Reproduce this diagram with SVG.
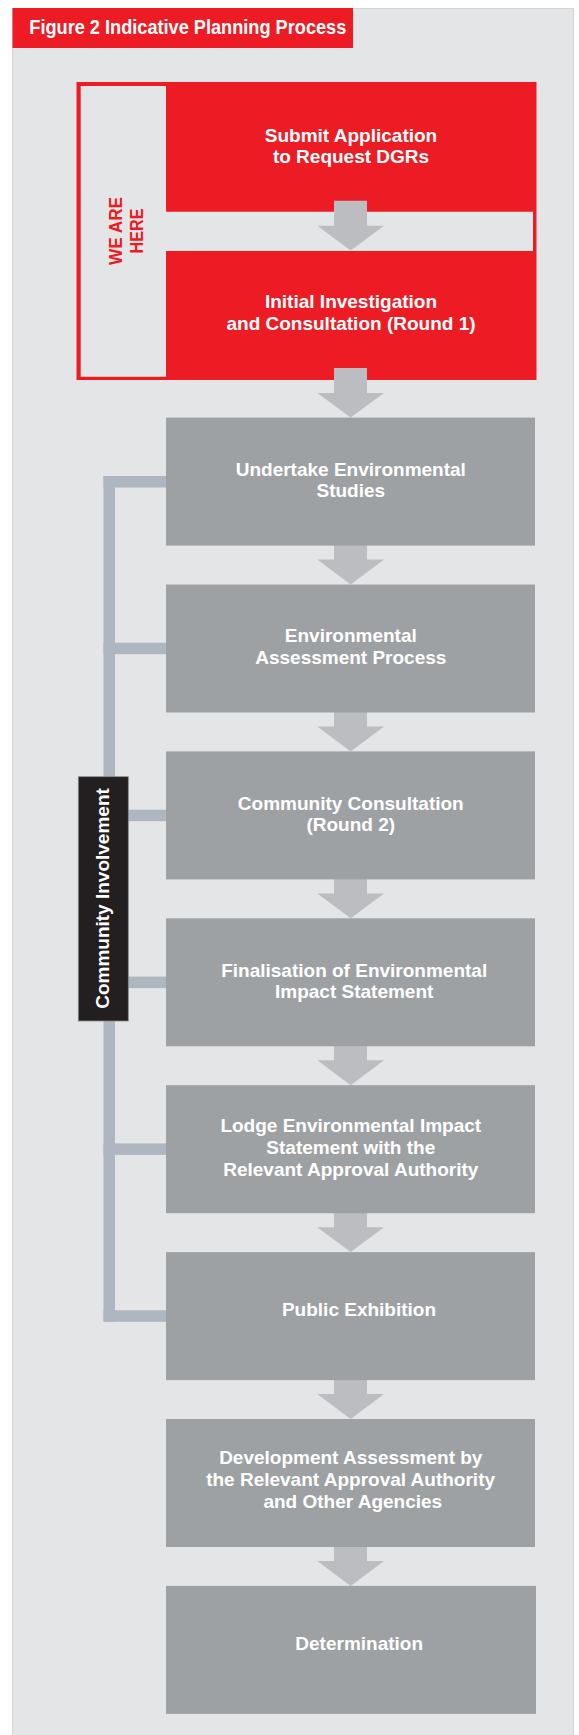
<svg xmlns="http://www.w3.org/2000/svg" width="579" height="1735" viewBox="0 0 579 1735">
  <style>
    .lbl { font-family: "Liberation Sans", Arial, sans-serif; font-weight: bold; font-size: 19px; fill: #ffffff; text-anchor: middle; }
    .here { font-family: "Liberation Sans", Arial, sans-serif; font-weight: bold; font-size: 19px; fill: #ed1c24; text-anchor: middle; }
    .step { fill: #9ea1a4; }
    .redbox { fill: #ed1c24; }
    .arrow { fill: #bcbdc0; }
    .bracket { fill: #aeb6bf; }
  </style>

  <!-- background panel -->
  <rect x="12.5" y="8.5" width="561" height="1730" fill="#e4e5e7" stroke="#d3d4d6" stroke-width="1"/>

  <!-- title bar -->
  <g id="title">
    <rect x="12.5" y="8" width="340.5" height="40" fill="#ed1c24"/>
    <text x="29.3" y="33.5" font-family="Liberation Sans, Arial, sans-serif" font-weight="bold" font-size="21" fill="#ffffff" textLength="317" lengthAdjust="spacingAndGlyphs">Figure 2 Indicative Planning Process</text>
  </g>

  <!-- current stage frame -->
  <g id="we-are-here">
    <rect x="76.5" y="82" width="460" height="298" fill="#ed1c24"/>
    <path d="M80.7 86 H166 V211.7 H533 V251 H166 V376.7 H80.7 Z" fill="#e4e5e7"/>
    <text class="here" transform="translate(121.7,231) rotate(-90)" textLength="68" lengthAdjust="spacingAndGlyphs">WE ARE</text>
    <text class="here" transform="translate(143.3,231) rotate(-90)" textLength="45" lengthAdjust="spacingAndGlyphs">HERE</text>
  </g>

  <!-- connectors: community involvement bracket and flow arrows -->
  <g id="connectors">
    <rect class="bracket" x="103.5" y="476" width="11.5" height="845.8"/>
    <rect class="bracket" x="103.5" y="476" width="62.5" height="11.5"/>
    <rect class="bracket" x="103.5" y="642.7" width="62.5" height="11.5"/>
    <rect class="bracket" x="103.5" y="809.7" width="62.5" height="11.5"/>
    <rect class="bracket" x="103.5" y="976.6" width="62.5" height="11.5"/>
    <rect class="bracket" x="103.5" y="1143.4" width="62.5" height="11.5"/>
    <rect class="bracket" x="103.5" y="1310.3" width="62.5" height="11.5"/>

    <polygon class="arrow" points="334,200.7 367,200.7 367,225.7 384,225.7 350.7,250.5 317.3,225.7 334,225.7"/>
    <polygon class="arrow" points="334,368 367,368 367,393 384,393 350.7,417.6 317.3,393 334,393"/>
    <polygon class="arrow" points="334,534.6 367,534.6 367,559.6 384,559.6 350.7,584.5 317.3,559.6 334,559.6"/>
    <polygon class="arrow" points="334,701.5 367,701.5 367,726.5 384,726.5 350.7,751.4 317.3,726.5 334,726.5"/>
    <polygon class="arrow" points="334,868.4 367,868.4 367,893.4 384,893.4 350.7,918.3 317.3,893.4 334,893.4"/>
    <polygon class="arrow" points="334,1035.3 367,1035.3 367,1060.3 384,1060.3 350.7,1085.2 317.3,1060.3 334,1060.3"/>
    <polygon class="arrow" points="334,1202.2 367,1202.2 367,1227.2 384,1227.2 350.7,1252.1 317.3,1227.2 334,1227.2"/>
    <polygon class="arrow" points="334,1369.1 367,1369.1 367,1394.1 384,1394.1 350.7,1419 317.3,1394.1 334,1394.1"/>
    <polygon class="arrow" points="334,1536 367,1536 367,1561 384,1561 350.7,1585.9 317.3,1561 334,1561"/>
  </g>

  <!-- red stages -->
  <g id="submit-application">
    <text class="lbl" x="351" y="141.7">Submit Application</text>
    <text class="lbl" x="351" y="163.3">to Request DGRs</text>
  </g>
  <g id="initial-investigation">
    <text class="lbl" x="351" y="308.3">Initial Investigation</text>
    <text class="lbl" x="351" y="330">and Consultation (Round 1)</text>
  </g>

  <!-- grey stages -->
  <g id="environmental-studies">
    <rect class="step" x="166" y="417.6" width="369" height="128"/>
    <text class="lbl" x="350.8" y="475.7">Undertake Environmental</text>
    <text class="lbl" x="350.8" y="497.3">Studies</text>
  </g>
  <g id="assessment-process">
    <rect class="step" x="166" y="584.5" width="369" height="128"/>
    <text class="lbl" x="350.8" y="642.3">Environmental</text>
    <text class="lbl" x="350.8" y="664">Assessment Process</text>
  </g>
  <g id="community-consultation">
    <rect class="step" x="166" y="751.4" width="369" height="128"/>
    <text class="lbl" x="350.8" y="809.5">Community Consultation</text>
    <text class="lbl" x="350.8" y="831.2">(Round 2)</text>
  </g>
  <g id="finalisation">
    <rect class="step" x="166" y="918.3" width="369" height="128"/>
    <text class="lbl" x="354.2" y="976.5">Finalisation of Environmental</text>
    <text class="lbl" x="354.2" y="998.2">Impact Statement</text>
  </g>
  <g id="lodge-eis">
    <rect class="step" x="166" y="1085.2" width="369" height="128"/>
    <text class="lbl" x="350.8" y="1131.7">Lodge Environmental Impact</text>
    <text class="lbl" x="350.8" y="1154">Statement with the</text>
    <text class="lbl" x="350.8" y="1176.2">Relevant Approval Authority</text>
  </g>
  <g id="public-exhibition">
    <rect class="step" x="166" y="1252.1" width="369" height="128"/>
    <text class="lbl" x="359" y="1316">Public Exhibition</text>
  </g>
  <g id="development-assessment">
    <rect class="step" x="166" y="1419" width="369" height="128"/>
    <text class="lbl" x="350.8" y="1464">Development Assessment by</text>
    <text class="lbl" x="350.6" y="1486.1">the Relevant Approval Authority</text>
    <text class="lbl" x="352.8" y="1508.3">and Other Agencies</text>
  </g>
  <g id="determination">
    <rect class="step" x="166" y="1585.9" width="370" height="128"/>
    <text class="lbl" x="359.2" y="1650">Determination</text>
  </g>

  <!-- community involvement label -->
  <g id="community-involvement">
    <rect x="78.3" y="776.7" width="50" height="244.3" fill="#231f20" stroke="#8a8b8d" stroke-width="0.8"/>
    <text class="lbl" transform="translate(109,898.5) rotate(-90)">Community Involvement</text>
  </g>
</svg>
